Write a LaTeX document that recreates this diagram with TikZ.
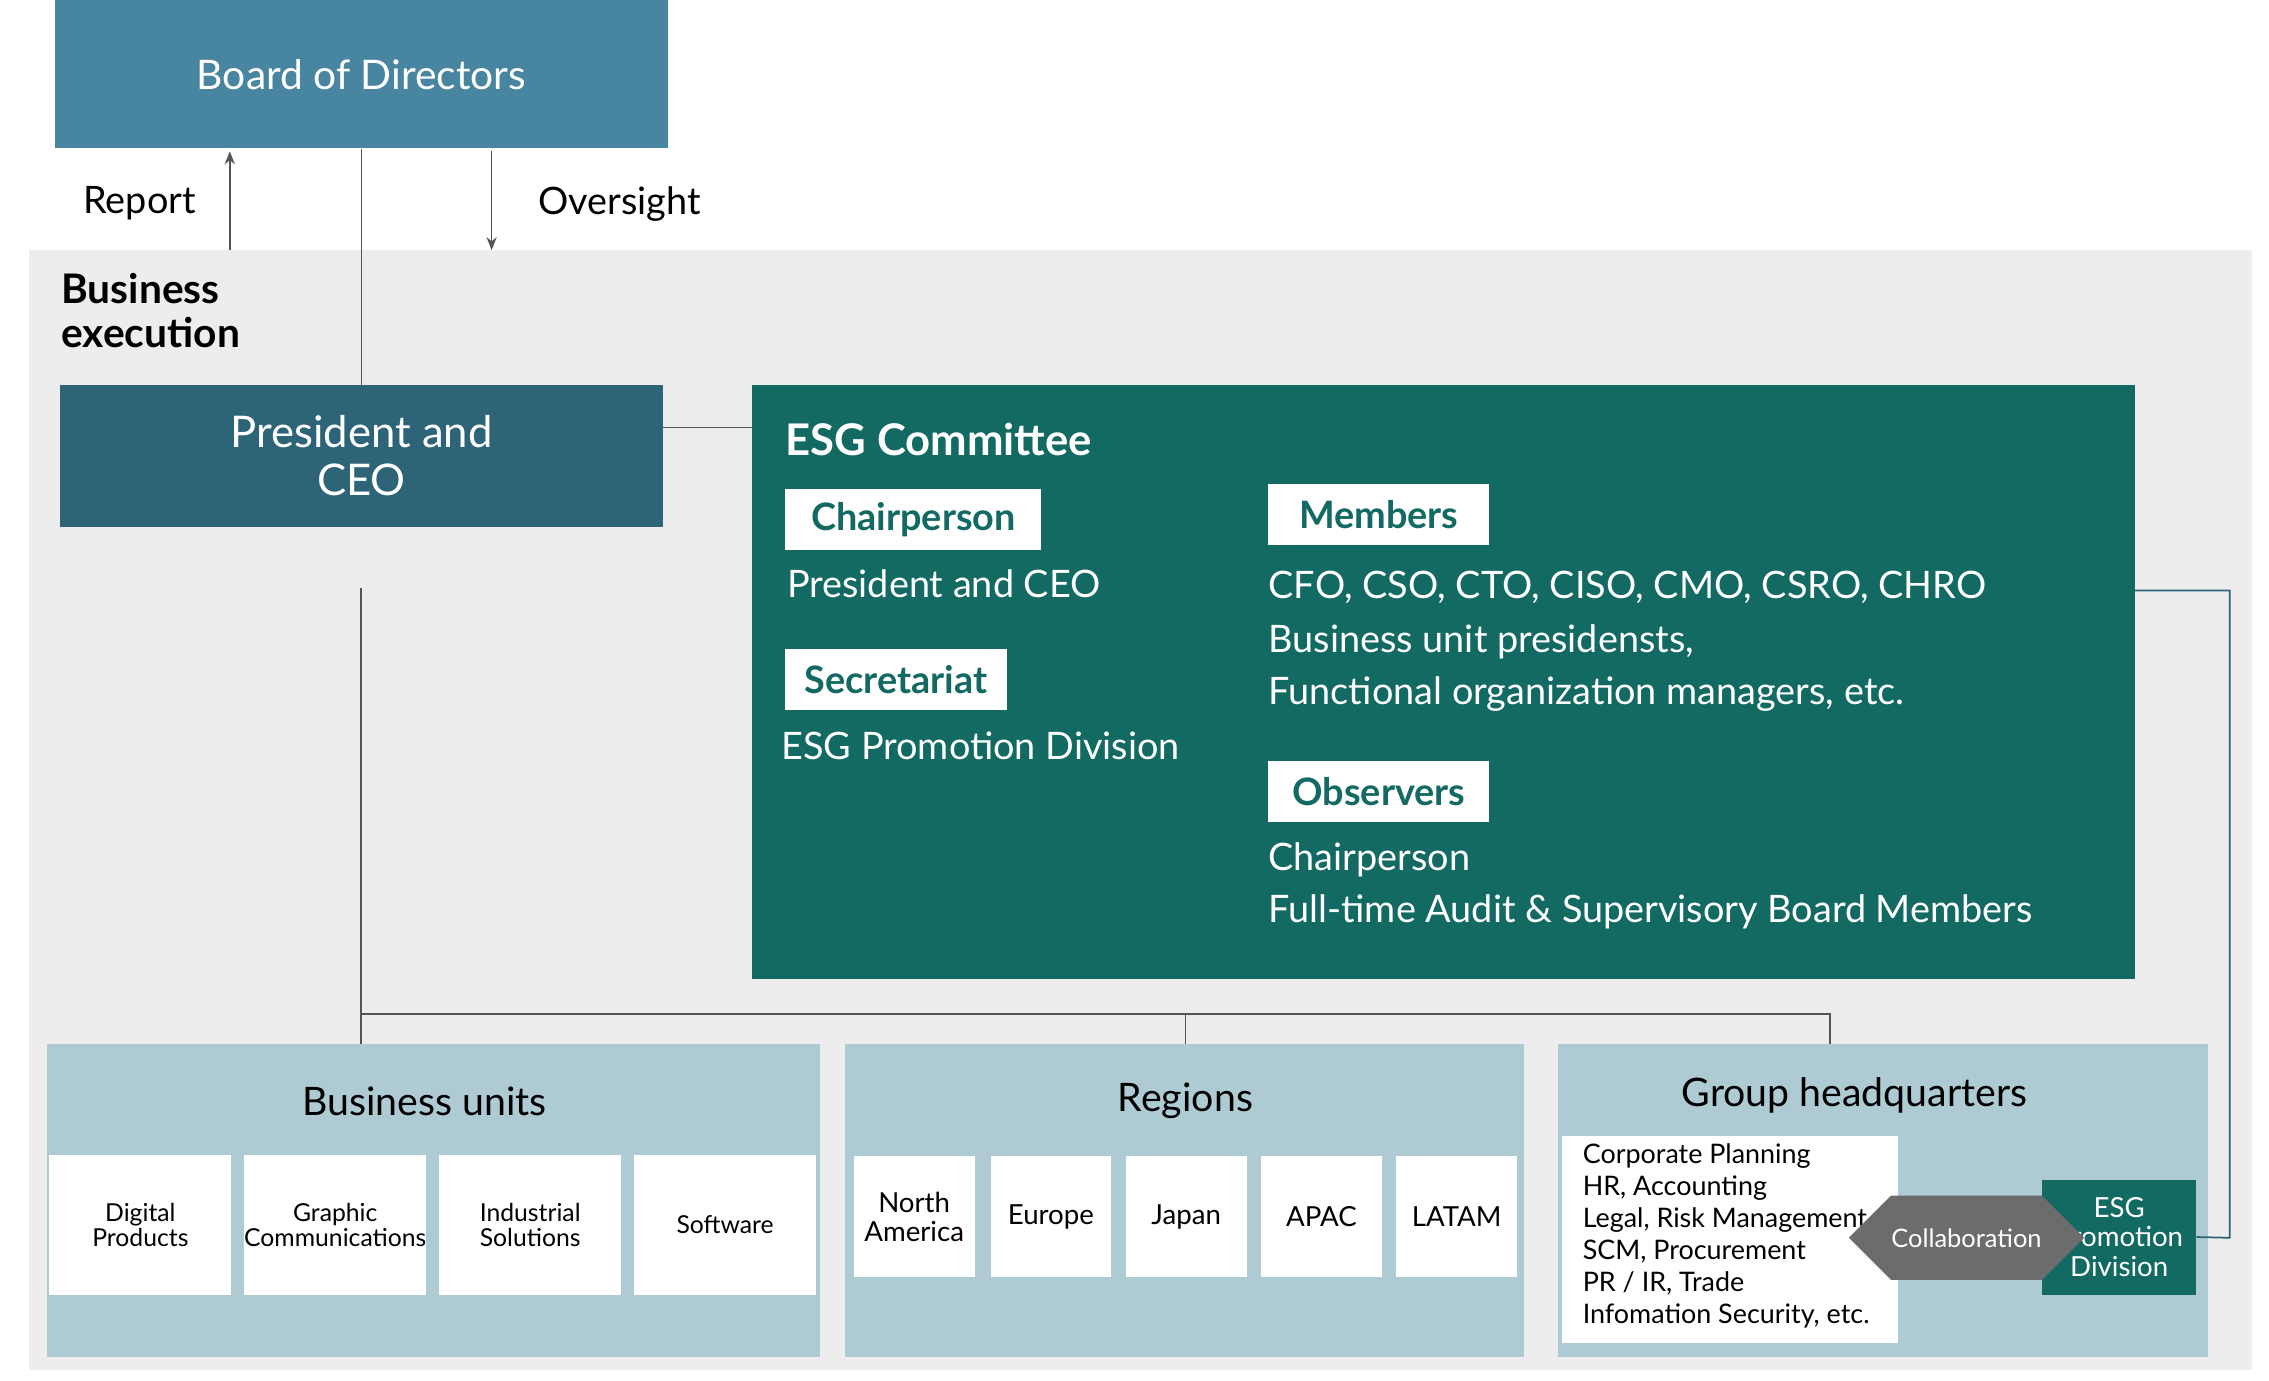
\documentclass[tikz,border=0pt]{standalone}
\usepackage{fontspec}
\setmainfont{Lato}
\usetikzlibrary{shapes.arrows,arrows.meta}
\definecolor{board}{HTML}{4785A0}
\definecolor{pres}{HTML}{2E6478}
\definecolor{teal}{HTML}{136A63}
\definecolor{lblue}{HTML}{AECAD2}
\definecolor{bg}{HTML}{EDEDED}
\definecolor{ln}{HTML}{555555}
\begin{document}
\begin{tikzpicture}[x=1pt,y=-1pt,
  box/.style={inner sep=0pt,align=center,anchor=north west},
  wbox/.style={fill=white,inner sep=0pt,align=center,font=\fontsize{17}{17}\selectfont,text=black},
  tag/.style={fill=white,inner sep=0pt,font=\bfseries\fontsize{26}{28}\selectfont,text=teal},
  wt/.style={text=white,anchor=west,inner sep=0pt,font=\fontsize{26}{28}\selectfont},
  conn/.style={draw=ln,line width=1.2pt}]
\useasboundingbox (0,0) rectangle (1560,949);
\fill[bg] (20,172) rectangle (1548,942);
% board
\node[fill=board,minimum width=421,minimum height=102,text=white,font=\fontsize{28}{30}\selectfont,inner sep=0pt] (board) at (248.5,51) {Board of Directors};
\coordinate (rb) at (158,104); \coordinate (re) at (158,172);
\coordinate (ob) at (338,104); \coordinate (oe) at (338,172);
\draw[conn,-{Stealth[length=9pt,width=7pt]}] (re) -- (rb);
\draw[conn,-{Stealth[length=9pt,width=7pt]}] (ob) -- (oe);
\node[font=\fontsize{26}{28}\selectfont] (rep) at (96,140) {Report};
\node[font=\fontsize{26}{28}\selectfont] (ove) at (426,140) {Oversight};
\node[anchor=north west,align=left,inner sep=0pt,font=\bfseries\fontsize{28}{30}\selectfont] (be) at (42,188) {Business\\execution};
% president
\node[fill=pres,minimum width=415,minimum height=97,text=white,align=center,font=\fontsize{30}{33}\selectfont,inner sep=0pt] (pres) at (248.5,313.5) {President and\\CEO};
\draw[conn] (board.south) -- (pres.north);
% ESG committee
\node[fill=teal,minimum width=951,minimum height=408,inner sep=0pt] (esg) at (992.5,469) {};
\draw[conn] (456,294) -- (esg.west |- 0,294);
\node[wt,font=\bfseries\fontsize{30}{32}\selectfont] (esgt) at (540,302) {ESG Committee};
\node[tag,minimum width=176,minimum height=42] (chair) at (628,357) {Chairperson};
\node[tag,minimum width=152,minimum height=42] (mem) at (948,354) {Members};
\node[tag,minimum width=152,minimum height=42] (sec) at (616,467) {Secretariat};
\node[tag,minimum width=152,minimum height=42] (obs) at (948,544) {Observers};
\node[wt] (t1) at (541,401) {President and CEO};
\node[wt] (t2) at (537,513) {ESG Promotion Division};
\node[wt] (t3) at (872,404) {CFO, CSO, CTO, CISO, CMO, CSRO, CHRO};
\node[wt] (t4) at (872,441) {Business unit presidensts,};
\node[wt] (t5) at (872,477) {Functional organization managers, etc.};
\node[wt] (t6) at (872,591) {Chairperson};
\node[wt] (t7) at (872,627) {Full-time Audit \& Supervisory Board Members};
% bottom groups
\node[fill=lblue,minimum width=532,minimum height=215,inner sep=0pt] (bu) at (298,825.5) {};
\node[fill=lblue,minimum width=467,minimum height=215,inner sep=0pt] (reg) at (814.5,825.5) {};
\node[fill=lblue,minimum width=447,minimum height=215,inner sep=0pt] (ghq) at (1294.5,825.5) {};
\coordinate (pb) at (248,404);
\coordinate (j1) at (248,697); \coordinate (j2) at (815,697); \coordinate (j3) at (1258,697);
\draw[conn] (pb) -- (248,718);
\draw[conn] (j1) -- (j3) -- (1258,718);
\draw[conn] (j2) -- (815,718);
\node[font=\fontsize{27}{29}\selectfont] (but) at (292,757) {Business units};
\node[font=\fontsize{27}{29}\selectfont] (regt) at (815,757) {Regions};
\node[font=\fontsize{27}{29}\selectfont] (ghqt) at (1275,753) {Group headquarters};
\node[wbox,minimum width=125,minimum height=96] (b1) at (96.5,842) {Digital\\Products};
\node[wbox,minimum width=125,minimum height=96] (b2) at (230.5,842) {Graphic\\Communications};
\node[wbox,minimum width=125,minimum height=96] (b3) at (364.5,842) {Industrial\\Solutions};
\node[wbox,minimum width=125,minimum height=96] (b4) at (498.5,842) {Software};
\node[wbox,minimum width=83,minimum height=83,font=\fontsize{19}{20}\selectfont] (r1) at (628.5,836.5) {North\\America};
\node[wbox,minimum width=83,minimum height=83,font=\fontsize{19}{20}\selectfont] (r2) at (722.5,836.5) {Europe};
\node[wbox,minimum width=83,minimum height=83,font=\fontsize{19}{20}\selectfont] (r3) at (815.5,836.5) {Japan};
\node[wbox,minimum width=83,minimum height=83,font=\fontsize{19}{20}\selectfont] (r4) at (908.5,836.5) {APAC};
\node[wbox,minimum width=83,minimum height=83,font=\fontsize{19}{20}\selectfont] (r5) at (1001.5,836.5) {LATAM};
\node[fill=white,minimum width=231,minimum height=142,inner sep=0pt] (hqb) at (1189.5,852) {};
\node[anchor=north west,align=left,inner sep=0pt,font=\fontsize{18.5}{22}\selectfont] (hqt) at (1088,786) {Corporate Planning\\HR, Accounting\\Legal, Risk Management\\SCM, Procurement\\PR / IR, Trade\\Infomation Security, etc.};
\node[fill=teal,minimum width=106,minimum height=79,inner sep=0pt,text=white,align=center,font=\fontsize{19}{20}\selectfont] (epd) at (1457,850.5) {ESG\\Promotion\\Division};
\node[double arrow,fill=gray!85!black,draw=none,minimum width=58,minimum height=112,double arrow head extend=0pt,inner sep=0pt,text=white,font=\fontsize{17.5}{18}\selectfont,shape border uses incircle=false] (col) at (1352,851) {Collaboration};
\draw[conn,draw=pres] (1468,406) -- (1533,406) -- (1533,851) -- (epd.east);
\end{tikzpicture}
\end{document}
